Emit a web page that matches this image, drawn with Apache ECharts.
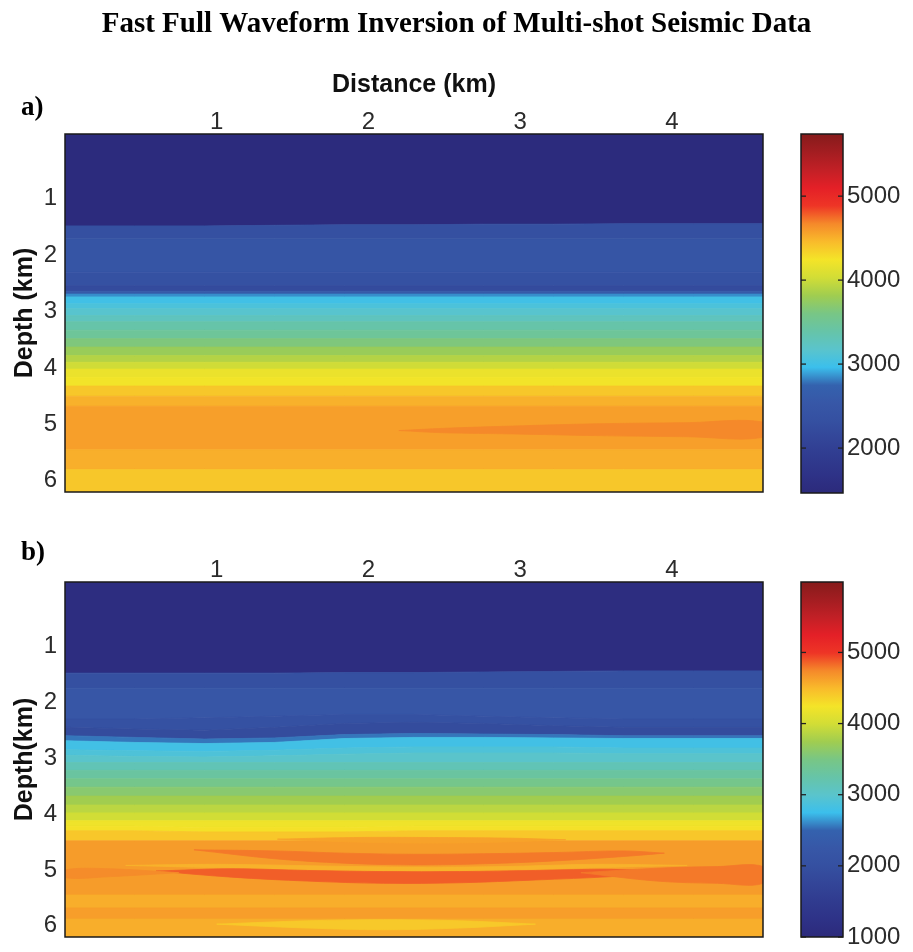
<!DOCTYPE html>
<html>
<head>
<meta charset="utf-8">
<script src="https://cdn.jsdelivr.net/npm/echarts@6/dist/echarts.min.js"></script>
<style>
  html, body { margin: 0; padding: 0; background: #fff; }
  #chart { width: 913px; height: 952px; }
</style>
</head>
<body>
<div id="chart"></div>
<script>
// Distance of the layer-boundary control points (km)
const DIST = [0, 0.46, 0.92, 1.38, 1.84, 2.3, 2.76, 3.22, 3.68, 4.14, 4.6];

// a) true model: layer velocities (m/s) and depth of each layer base at DIST (km)
const VEL_A = [1500, 2330, 2470, 2350, 2220, 2600, 2850, 3000, 3080, 3160, 3260, 3380, 3480,
  3640, 3780, 3900, 4020, 4190, 4230, 4393, 4500, 4577, 4509, 4393];
const BASE_A = [
  [1.48, 1.48, 1.48, 1.47, 1.46, 1.46, 1.45, 1.45, 1.44, 1.44, 1.44],
  [1.71, 1.71, 1.71, 1.71, 1.71, 1.71, 1.71, 1.71, 1.71, 1.71, 1.71],
  [2.30, 2.30, 2.30, 2.30, 2.30, 2.30, 2.30, 2.30, 2.30, 2.30, 2.30],
  [2.54, 2.54, 2.54, 2.54, 2.54, 2.54, 2.54, 2.54, 2.54, 2.54, 2.54],
  [2.64, 2.64, 2.64, 2.64, 2.64, 2.64, 2.64, 2.64, 2.64, 2.64, 2.64],
  [2.69, 2.69, 2.69, 2.69, 2.69, 2.69, 2.69, 2.69, 2.69, 2.69, 2.69],
  [2.74, 2.74, 2.74, 2.74, 2.74, 2.74, 2.74, 2.74, 2.74, 2.74, 2.74],
  [2.86, 2.86, 2.86, 2.86, 2.86, 2.86, 2.86, 2.86, 2.86, 2.86, 2.86],
  [2.95, 2.95, 2.95, 2.95, 2.95, 2.95, 2.95, 2.95, 2.95, 2.95, 2.95],
  [3.07, 3.07, 3.07, 3.07, 3.07, 3.07, 3.07, 3.07, 3.07, 3.07, 3.07],
  [3.18, 3.18, 3.18, 3.18, 3.18, 3.18, 3.18, 3.18, 3.18, 3.18, 3.18],
  [3.33, 3.33, 3.33, 3.33, 3.33, 3.33, 3.33, 3.33, 3.33, 3.33, 3.33],
  [3.48, 3.48, 3.48, 3.48, 3.48, 3.48, 3.48, 3.48, 3.48, 3.48, 3.48],
  [3.63, 3.63, 3.63, 3.63, 3.63, 3.63, 3.63, 3.63, 3.63, 3.63, 3.63],
  [3.78, 3.78, 3.78, 3.78, 3.78, 3.78, 3.78, 3.78, 3.78, 3.78, 3.78],
  [3.90, 3.90, 3.90, 3.90, 3.90, 3.90, 3.90, 3.90, 3.90, 3.90, 3.90],
  [4.02, 4.02, 4.02, 4.02, 4.02, 4.02, 4.02, 4.02, 4.02, 4.02, 4.02],
  [4.17, 4.17, 4.17, 4.17, 4.17, 4.17, 4.17, 4.17, 4.17, 4.17, 4.17],
  [4.32, 4.32, 4.32, 4.32, 4.32, 4.32, 4.32, 4.32, 4.32, 4.32, 4.32],
  [4.50, 4.50, 4.50, 4.50, 4.50, 4.50, 4.50, 4.50, 4.50, 4.50, 4.50],
  [4.68, 4.68, 4.68, 4.68, 4.68, 4.68, 4.68, 4.68, 4.68, 4.68, 4.68],
  [5.45, 5.45, 5.45, 5.45, 5.45, 5.45, 5.45, 5.45, 5.45, 5.45, 5.45],
  [5.80, 5.80, 5.80, 5.80, 5.80, 5.80, 5.80, 5.80, 5.80, 5.80, 5.80],
  [6.20, 6.20, 6.20, 6.20, 6.20, 6.20, 6.20, 6.20, 6.20, 6.20, 6.20]
];
// a) faster lens inside the orange layer
const LENS_A_VEL = [4670];
const LENS_A_DIST = [[2.2, 2.5, 2.95, 3.5, 4.1, 4.6]];
const LENS_A_TOP = [[5.11, 5.07, 5.03, 4.99, 4.97, 4.96]];
const LENS_A_BASE = [[5.11, 5.15, 5.17, 5.20, 5.22, 5.23]];

// b) inverted model: layer velocities (m/s) and base depths at DIST (km)
const VEL_B = [1100, 2000, 2200, 2050, 1900, 2550, 2800, 2900, 3000, 3150, 3300, 3450, 3600,
  3750, 3880, 3990, 4210, 4260, 4420, 4650, 4560, 4640, 4560];
const BASE_B = [
  [1.48, 1.48, 1.48, 1.48, 1.47, 1.47, 1.46, 1.45, 1.44, 1.44, 1.44],
  [1.75, 1.75, 1.75, 1.75, 1.75, 1.75, 1.75, 1.75, 1.75, 1.75, 1.75],
  [2.30, 2.30, 2.28, 2.25, 2.22, 2.22, 2.25, 2.28, 2.30, 2.30, 2.30],
  [2.45, 2.48, 2.50, 2.45, 2.38, 2.36, 2.38, 2.42, 2.45, 2.45, 2.45],
  [2.60, 2.63, 2.66, 2.64, 2.58, 2.56, 2.57, 2.58, 2.60, 2.60, 2.60],
  [2.69, 2.72, 2.74, 2.72, 2.65, 2.63, 2.63, 2.64, 2.65, 2.65, 2.65],
  [2.85, 2.87, 2.88, 2.86, 2.82, 2.80, 2.80, 2.80, 2.82, 2.82, 2.82],
  [2.95, 2.97, 2.98, 2.96, 2.93, 2.91, 2.91, 2.91, 2.92, 2.92, 2.92],
  [3.08, 3.08, 3.08, 3.08, 3.08, 3.08, 3.08, 3.08, 3.08, 3.08, 3.08],
  [3.22, 3.22, 3.22, 3.22, 3.22, 3.22, 3.22, 3.22, 3.22, 3.22, 3.22],
  [3.37, 3.37, 3.37, 3.37, 3.37, 3.37, 3.37, 3.37, 3.37, 3.37, 3.37],
  [3.52, 3.52, 3.52, 3.52, 3.52, 3.52, 3.52, 3.52, 3.52, 3.52, 3.52],
  [3.68, 3.68, 3.68, 3.68, 3.68, 3.68, 3.68, 3.68, 3.68, 3.68, 3.68],
  [3.84, 3.84, 3.84, 3.84, 3.84, 3.84, 3.84, 3.84, 3.84, 3.84, 3.84],
  [3.98, 3.98, 3.98, 3.98, 3.98, 3.98, 3.98, 3.98, 3.98, 3.98, 3.98],
  [4.12, 4.12, 4.12, 4.12, 4.12, 4.12, 4.12, 4.12, 4.12, 4.12, 4.12],
  [4.22, 4.22, 4.24, 4.24, 4.24, 4.22, 4.22, 4.22, 4.22, 4.22, 4.22],
  [4.30, 4.30, 4.32, 4.32, 4.32, 4.30, 4.30, 4.30, 4.30, 4.30, 4.30],
  [4.48, 4.48, 4.48, 4.48, 4.48, 4.48, 4.48, 4.48, 4.48, 4.48, 4.48],
  [5.45, 5.45, 5.45, 5.45, 5.45, 5.45, 5.45, 5.45, 5.45, 5.45, 5.45],
  [5.68, 5.68, 5.68, 5.68, 5.68, 5.68, 5.68, 5.68, 5.68, 5.68, 5.68],
  [5.88, 5.88, 5.88, 5.88, 5.88, 5.88, 5.88, 5.88, 5.88, 5.88, 5.88],
  [6.20, 6.20, 6.20, 6.20, 6.20, 6.20, 6.20, 6.20, 6.20, 6.20, 6.20]
];
// b) curved reflectors and lenses in the deep section
const LENS_B_VEL = [4620, 4540, 4790, 4870, 4790, 4730, 4410];
const LENS_B_DIST = [
  [1.4, 1.9, 2.4, 2.9, 3.3],
  [0.4, 1.0, 1.7, 2.3, 2.9, 3.5, 4.1],
  [0.85, 1.38, 1.84, 2.3, 2.76, 3.22, 3.68, 3.95],
  [0.6, 1.1, 1.6, 2.1, 2.6, 3.1, 3.6, 4.0],
  [3.4, 3.9, 4.3, 4.6],
  [0, 0.3, 0.75],
  [1.0, 1.6, 2.1, 2.6, 3.1]
];
const LENS_B_TOP = [
  [4.45, 4.42, 4.42, 4.43, 4.46],
  [4.92, 4.90, 4.93, 4.95, 4.94, 4.90, 4.92],
  [4.64, 4.66, 4.70, 4.72, 4.71, 4.69, 4.66, 4.70],
  [5.02, 4.98, 5.01, 5.03, 5.03, 5.01, 4.99, 5.04],
  [5.05, 4.97, 4.94, 4.94],
  [5.00, 4.98, 5.05],
  [5.97, 5.91, 5.89, 5.91, 5.97]
];
const LENS_B_BASE = [
  [4.45, 4.50, 4.52, 4.50, 4.46],
  [4.92, 4.96, 5.00, 5.02, 5.00, 4.96, 4.92],
  [4.64, 4.80, 4.88, 4.91, 4.89, 4.84, 4.76, 4.70],
  [5.02, 5.13, 5.20, 5.24, 5.23, 5.18, 5.12, 5.04],
  [5.05, 5.20, 5.24, 5.24],
  [5.14, 5.12, 5.05],
  [5.97, 6.04, 6.07, 6.04, 5.97]
];

// Axis ranges and tick labels
const DIST_RANGE = [0, 4.6];
const DEPTH_RANGE = [-0.15, 6.2];
const DIST_TICKS = [1, 2, 3, 4];
const DEPTH_TICKS = [1, 2, 3, 4, 5, 6];
const VEL_RANGE_A = [1465, 5740];
const VEL_RANGE_B = [1000, 5990];
const VEL_TICKS_A = [2000, 3000, 4000, 5000];
const VEL_TICKS_B = [1000, 2000, 3000, 4000, 5000];

// Jet-style colormap, evenly spaced from low to high velocity
const JET = ['#2c2a7b', '#2e3287', '#303b8f', '#334598', '#3550a1', '#3757a7', '#3462ae',
  '#3bbfec', '#5ac4cc', '#66c4a8', '#78c685', '#a0cd50', '#d2dd36', '#f4e428', '#f9bb2b',
  '#f5892a', '#ee3526', '#e42027', '#c22026', '#a31d21', '#861b1b'];

const SANS = 'Liberation Sans, Arial, Helvetica, sans-serif';
const SERIF = 'Liberation Serif, Times New Roman, serif';
const TXT = '#2b2b2b';

// Turn stacked layers plus lenses into closed shapes (background first, lenses on top)
function buildModel(vel, base, lensVel, lensDist, lensTop, lensBase) {
  const shapes = [];
  const data = [];
  let top = DIST.map(() => DEPTH_RANGE[0]);
  vel.forEach((v, i) => {
    shapes.push({ dist: DIST, top: top, base: base[i], smooth: 0 });
    data.push([shapes.length - 1, v]);
    top = base[i];
  });
  lensVel.forEach((v, i) => {
    shapes.push({ dist: lensDist[i], top: lensTop[i], base: lensBase[i], smooth: 0.35 });
    data.push([shapes.length - 1, v]);
  });
  return { shapes, data };
}

function modelRenderer(shapes) {
  return function (params, api) {
    const s = shapes[api.value(0)];
    const pts = [];
    for (let i = 0; i < s.dist.length; i++) pts.push(api.coord([s.dist[i], s.top[i]]));
    for (let i = s.dist.length - 1; i >= 0; i--) pts.push(api.coord([s.dist[i], s.base[i]]));
    const c = api.visual('color');
    return {
      type: 'polygon',
      shape: { points: pts, smooth: s.smooth },
      style: { fill: c, stroke: c, lineWidth: 0.8 }
    };
  };
}

// Colour bar: gradient over the value range plus tick marks on both edges
function colorbarRenderer(ticks) {
  return function (params, api) {
    const p0 = api.coord([0, api.value(2)]);
    const p1 = api.coord([1, api.value(1)]);
    const stops = JET.map((c, i) => ({ offset: i / (JET.length - 1), color: c }));
    const children = [{
      type: 'rect',
      shape: { x: p0[0], y: p0[1], width: p1[0] - p0[0], height: p1[1] - p0[1] },
      style: { fill: new echarts.graphic.LinearGradient(0, 1, 0, 0, stops) }
    }];
    ticks.forEach(t => {
      const l = api.coord([0, t]);
      const r = api.coord([1, t]);
      children.push({ type: 'line', shape: { x1: l[0], y1: l[1], x2: l[0] + 5, y2: l[1] },
        style: { stroke: '#222', lineWidth: 1.3 } });
      children.push({ type: 'line', shape: { x1: r[0] - 5, y1: r[1], x2: r[0], y2: r[1] },
        style: { stroke: '#222', lineWidth: 1.3 } });
    });
    return { type: 'group', children };
  };
}

const modelA = buildModel(VEL_A, BASE_A, LENS_A_VEL, LENS_A_DIST, LENS_A_TOP, LENS_A_BASE);
const modelB = buildModel(VEL_B, BASE_B, LENS_B_VEL, LENS_B_DIST, LENS_B_TOP, LENS_B_BASE);

function distAxis(gridIndex, withName) {
  return {
    gridIndex, type: 'value', position: 'top', min: DIST_RANGE[0], max: DIST_RANGE[1],
    axisLine: { show: false }, axisTick: { show: false }, splitLine: { show: false },
    axisLabel: { customValues: DIST_TICKS, fontFamily: SANS, fontSize: 24, color: TXT, margin: 0 },
    name: withName ? 'Distance (km)' : '', nameLocation: 'middle', nameGap: 36,
    nameTextStyle: { fontFamily: SANS, fontSize: 25, fontWeight: 'bold', color: '#111' }
  };
}
function depthAxis(gridIndex, name) {
  return {
    gridIndex, type: 'value', inverse: true, min: DEPTH_RANGE[0], max: DEPTH_RANGE[1],
    axisLine: { show: false }, axisTick: { show: false }, splitLine: { show: false },
    axisLabel: { customValues: DEPTH_TICKS, fontFamily: SANS, fontSize: 24, color: TXT, margin: 8 },
    name, nameLocation: 'middle', nameRotate: 90, nameGap: 27, nameMoveOverlap: false,
    nameTextStyle: { fontFamily: SANS, fontSize: 25, fontWeight: 'bold', color: '#111' }
  };
}
function hiddenUnitAxis(gridIndex) {
  return { gridIndex, type: 'value', min: 0, max: 1, show: false };
}
function velAxis(gridIndex, range, ticks) {
  return {
    gridIndex, type: 'value', position: 'right', min: range[0], max: range[1],
    axisLine: { show: false }, splitLine: { show: false }, axisTick: { show: false },
    axisLabel: { customValues: ticks, formatter: v => String(v), fontFamily: SANS,
      fontSize: 24, color: TXT, margin: 4 }
  };
}

const frame = { show: true, z: 10, backgroundColor: 'transparent', borderColor: '#1a1a1a', borderWidth: 1.5 };

const option = {
  animation: false,
  backgroundColor: '#ffffff',
  title: [
    { text: 'Fast Full Waveform Inversion of Multi-shot Seismic Data', left: 'center', top: 5,
      textStyle: { fontFamily: SERIF, fontWeight: 'bold', fontSize: 29, color: '#000' } },
    { text: 'a)', left: 16, top: 90, textStyle: { fontFamily: SERIF, fontWeight: 'bold', fontSize: 27, color: '#000' } },
    { text: 'b)', left: 16, top: 535, textStyle: { fontFamily: SERIF, fontWeight: 'bold', fontSize: 27, color: '#000' } }
  ],
  grid: [
    Object.assign({ left: 65, top: 134, width: 698, height: 358 }, frame),
    Object.assign({ left: 801, top: 134, width: 42, height: 359 }, frame),
    Object.assign({ left: 65, top: 582, width: 698, height: 355 }, frame),
    Object.assign({ left: 801, top: 582, width: 42, height: 355 }, frame)
  ],
  xAxis: [
    distAxis(0, true),
    hiddenUnitAxis(1),
    distAxis(2, false),
    hiddenUnitAxis(3)
  ],
  yAxis: [
    depthAxis(0, 'Depth (km)'),
    velAxis(1, VEL_RANGE_A, VEL_TICKS_A),
    depthAxis(2, 'Depth(km)'),
    velAxis(3, VEL_RANGE_B, VEL_TICKS_B)
  ],
  visualMap: [
    { type: 'continuous', show: false, seriesIndex: 0, dimension: 1,
      min: VEL_RANGE_A[0], max: VEL_RANGE_A[1], inRange: { color: JET } },
    { type: 'continuous', show: false, seriesIndex: 2, dimension: 1,
      min: VEL_RANGE_B[0], max: VEL_RANGE_B[1], inRange: { color: JET } }
  ],
  series: [
    { type: 'custom', name: 'true model', xAxisIndex: 0, yAxisIndex: 0, clip: true,
      renderItem: modelRenderer(modelA.shapes), data: modelA.data },
    { type: 'custom', name: 'colorbar a', xAxisIndex: 1, yAxisIndex: 1,
      renderItem: colorbarRenderer(VEL_TICKS_A), data: [[0, VEL_RANGE_A[0], VEL_RANGE_A[1]]] },
    { type: 'custom', name: 'inverted model', xAxisIndex: 2, yAxisIndex: 2, clip: true,
      renderItem: modelRenderer(modelB.shapes), data: modelB.data },
    { type: 'custom', name: 'colorbar b', xAxisIndex: 3, yAxisIndex: 3,
      renderItem: colorbarRenderer(VEL_TICKS_B), data: [[0, VEL_RANGE_B[0], VEL_RANGE_B[1]]] }
  ]
};

const chart = echarts.init(document.getElementById('chart'), null, { renderer: 'canvas' });
chart.setOption(option);
</script>
</body>
</html>
